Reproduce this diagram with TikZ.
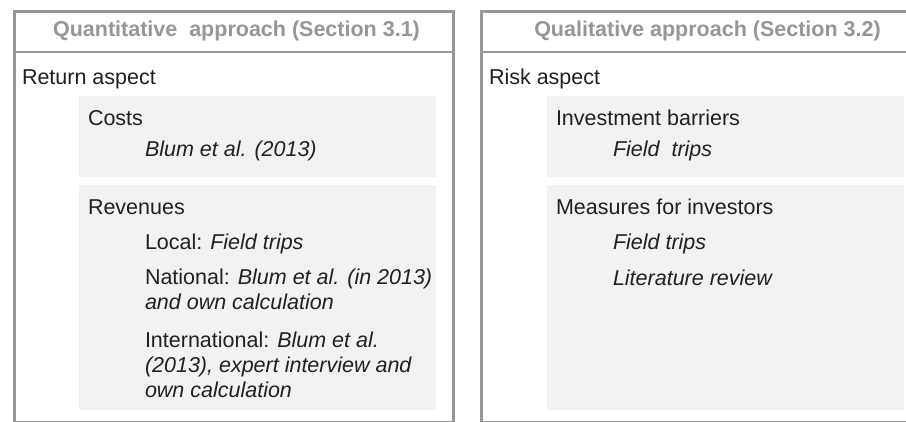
\documentclass[tikz,border=0pt]{standalone}
\usepackage{fontspec}
\setmainfont{Liberation Sans}
\definecolor{framegray}{RGB}{150,150,155}
\definecolor{boxfill}{RGB}{241,242,244}
\definecolor{hdrgray}{RGB}{150,150,152}
\definecolor{ink}{RGB}{35,31,32}
\newcommand{\linesblock}[1]{\vtop{\baselineskip=25pt\lineskiplimit=-20pt #1}}
\begin{document}
\begin{tikzpicture}[x=1pt,y=-1pt,
  txt/.style={inner sep=0pt, outer sep=0pt, anchor=base west, text=ink,
    font=\fontsize{21.5}{25}\selectfont},
  hdr/.style={inner sep=0pt, outer sep=0pt, anchor=base, text=hdrgray,
    font=\fontsize{21.5}{25}\selectfont\bfseries},
  panel/.style={draw=framegray, line width=3pt, fill=white, inner sep=0pt, anchor=north west},
  sepline/.style={draw=framegray, line width=2.5pt},
  greybox/.style={fill=boxfill, draw=none, inner sep=0pt, anchor=north west}]
\useasboundingbox (0,0) rectangle (906,422);
% panels
\node[panel, minimum width=439pt, minimum height=410.5pt] (qpanel) at (12.5,10) {};
\node[panel, minimum width=440pt, minimum height=410.5pt] (lpanel) at (479.5,10) {};
\coordinate (qsepL) at (12.5,52);
\coordinate (qsepR) at (451.5,52);
\coordinate (lsepL) at (479.5,52);
\coordinate (lsepR) at (919.5,52);
\draw[sepline] (qsepL) -- (qsepR);
\draw[sepline] (lsepL) -- (lsepR);
% grey boxes
\node[greybox, minimum width=357pt, minimum height=81pt] (costsbox) at (79,96) {};
\node[greybox, minimum width=357pt, minimum height=225pt] (revbox) at (79,185) {};
\node[greybox, minimum width=357pt, minimum height=81pt] (barbox) at (547,96) {};
\node[greybox, minimum width=357pt, minimum height=225pt] (measbox) at (547,185) {};
% headers
\node[hdr] (qhead) at (236.5,37) {Quantitative\ \ approach (Section 3.1)};
\node[hdr] (lhead) at (707.5,37) {Qualitative approach (Section 3.2)};
% left content
\node[txt] (ret) at (22,85) {Return aspect};
\node[txt] (costs) at (88,126) {Costs};
\node[txt] (costsrc) at (145,157) {\itshape Blum et al. (2013)};
\node[txt] (rev) at (88,215) {Revenues};
\node[txt] (local) at (145,250) {Local: \textit{Field trips}};
\node[txt] (national) at (145,285) {\linesblock{\hbox{National: \textit{Blum et al. (in 2013)}}\hbox{\textit{and own calculation}}}};
\node[txt] (intl) at (145,348) {\linesblock{\hbox{International: \textit{Blum et al.}}\hbox{\textit{(2013), expert interview and}}\hbox{\textit{own calculation}}}};
% right content
\node[txt] (risk) at (489,85) {Risk aspect};
\node[txt] (barr) at (556,126) {Investment barriers};
\node[txt] (barrsrc) at (613,157) {\itshape Field\ \ trips};
\node[txt] (meas) at (556,215) {Measures for investors};
\node[txt] (meassrc1) at (613,250) {\itshape Field trips};
\node[txt] (meassrc2) at (613,286) {\itshape Literature review};
\end{tikzpicture}
\end{document}
